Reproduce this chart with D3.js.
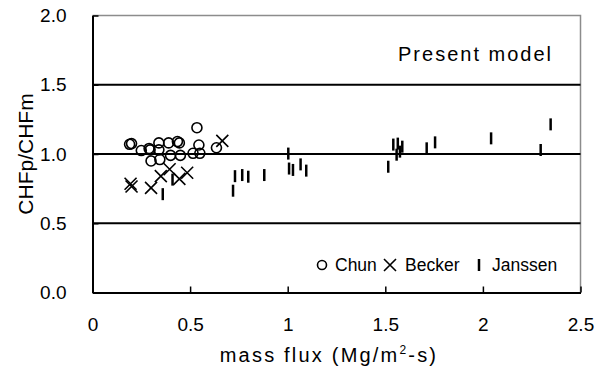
<!DOCTYPE html>
<html>
<head>
<meta charset="utf-8">
<script src="https://cdn.jsdelivr.net/npm/d3@7"></script>
<style>
  body { margin: 0; background: #fff; }
  svg { display: block; font-family: "Liberation Sans", Arial, sans-serif; }
  .axes text { font-size: 19px; fill: #000; }
</style>
</head>
<body>
<svg width="607" height="369"></svg>
<script>
//CHF ratio vs mass flux, three data sets
const SVG_WIDTH = 607;
const SVG_HEIGHT = 369;

//tick values
var xTicks = [0, 0.5, 1, 1.5, 2, 2.5];
var yTicks = [0, 0.5, 1.0, 1.5, 2.0];
var gridValues = [0.5, 1.0, 1.5];

//Chun (circles)
var chunX = [0.19, 0.20, 0.25, 0.29, 0.295, 0.30, 0.34, 0.34, 0.345, 0.39, 0.40, 0.435, 0.445, 0.45, 0.515, 0.535, 0.545, 0.55, 0.635];
var chunY = [1.07, 1.075, 1.025, 1.04, 1.03, 0.95, 1.08, 1.03, 0.96, 1.08, 0.99, 1.09, 1.08, 0.99, 1.005, 1.19, 1.065, 1.005, 1.045];

//Becker (crosses)
var beckerX = [0.195, 0.20, 0.30, 0.35, 0.395, 0.445, 0.485, 0.665];
var beckerY = [0.785, 0.765, 0.755, 0.84, 0.89, 0.82, 0.865, 1.095];

//Janssen (vertical bars)
var janssenX = [0.36, 0.41, 0.72, 0.73, 0.767, 0.798, 0.88, 1.003, 1.007, 1.027, 1.066, 1.095,
                1.515, 1.541, 1.558, 1.564, 1.575, 1.587, 1.712, 1.755, 2.042, 2.296, 2.347];
var janssenY = [0.71, 0.815, 0.735, 0.84, 0.848, 0.836, 0.848, 1.003, 0.895, 0.885, 0.925, 0.88,
                0.908, 1.068, 0.995, 1.075, 1.017, 1.053, 1.041, 1.084, 1.113, 1.029, 1.214];

var svg = d3.select('svg');

var x = d3.scaleLinear()
          .domain([0, 2.5])
          .range([92.5, 580.5]);

var y = d3.scaleLinear()
          .domain([0, 2])
          .range([292.5, 15.5]);

//top and right border, gray
svg.append('path')
   .attr('d', 'M' + x(0) + ',' + y(2) + 'H' + x(2.5) + 'V' + y(0))
   .attr('fill', 'none')
   .attr('stroke', '#8c8c8c')
   .attr('stroke-width', 1.5);

//horizontal grid lines
svg.selectAll('.grid')
   .data(gridValues)
   .enter()
   .append('line')
     .attr('class', 'grid')
     .attr('x1', x(0))
     .attr('x2', x(2.5))
     .attr('y1', function(d) { return y(d); })
     .attr('y2', function(d) { return y(d); })
     .attr('stroke', '#000')
     .attr('stroke-width', 2);

//x axis
var xAxis = svg.append('g')
   .attr('class', 'axes')
   .attr('transform', 'translate(0,' + y(0) + ')')
   .call(d3.axisBottom(x)
            .tickValues(xTicks)
            .tickFormat(function(d) { return String(d); })
            .tickSizeInner(-6)
            .tickSizeOuter(0)
            .tickPadding(25.5));

//y axis
var yAxis = svg.append('g')
   .attr('class', 'axes')
   .attr('transform', 'translate(' + x(0) + ',0)')
   .call(d3.axisLeft(y)
            .tickValues(yTicks)
            .tickFormat(d3.format('.1f'))
            .tickSizeInner(-6)
            .tickSizeOuter(0)
            .tickPadding(26));

svg.selectAll('.axes .domain').attr('stroke', '#000').attr('stroke-width', 2);
svg.selectAll('.axes .tick line').attr('stroke', '#000').attr('stroke-width', 1.5);
svg.selectAll('.axes text').attr('font-family', '"Liberation Sans", Arial, sans-serif');

//axis labels
svg.append('text')
   .attr('transform', 'translate(25,' + y(1) + ') rotate(-90)')
   .attr('text-anchor', 'middle')
   .attr('dominant-baseline', 'central')
   .style('font-size', '21px')
   .text('CHFp/CHFm');

var xl = svg.append('text')
   .attr('x', 329)
   .attr('y', 361.5)
   .attr('text-anchor', 'middle')
   .style('font-size', '20px')
   .style('letter-spacing', '2.2px');
xl.append('tspan').text('mass flux (Mg/m');
xl.append('tspan').attr('dy', -8).style('font-size', '12px').text('2');
xl.append('tspan').attr('dy', 8).text('-s)');

svg.append('text')
   .attr('x', 553)
   .attr('y', 61)
   .attr('text-anchor', 'end')
   .style('font-size', '20px')
   .style('letter-spacing', '2px')
   .text('Present model');

//marker shapes
var crossPath = 'M-6,-6L6,6M6,-6L-6,6';
var barPath = 'M0,-6V6';

//draw the data
svg.selectAll('.chun')
   .data(d3.range(chunX.length))
   .enter()
   .append('circle')
     .attr('class', 'chun')
     .attr('cx', function(i) { return x(chunX[i]); })
     .attr('cy', function(i) { return y(chunY[i]); })
     .attr('r', 5)
     .attr('fill', 'none')
     .attr('stroke', '#000')
     .attr('stroke-width', 1.6);

svg.selectAll('.becker')
   .data(d3.range(beckerX.length))
   .enter()
   .append('path')
     .attr('class', 'becker')
     .attr('transform', function(i) { return 'translate(' + x(beckerX[i]) + ',' + y(beckerY[i]) + ')'; })
     .attr('d', crossPath)
     .attr('fill', 'none')
     .attr('stroke', '#000')
     .attr('stroke-width', 1.6);

svg.selectAll('.janssen')
   .data(d3.range(janssenX.length))
   .enter()
   .append('path')
     .attr('class', 'janssen')
     .attr('transform', function(i) { return 'translate(' + x(janssenX[i]) + ',' + y(janssenY[i]) + ')'; })
     .attr('d', barPath)
     .attr('stroke', '#000')
     .attr('stroke-width', 2.5);

//legend
var legendY = 265;
var legend = svg.append('g').style('font-size', '17.5px');

legend.append('circle')
      .attr('cx', 322).attr('cy', legendY).attr('r', 4.5)
      .attr('fill', 'none').attr('stroke', '#000').attr('stroke-width', 1.6);
legend.append('text').attr('x', 335).attr('y', legendY)
      .attr('dominant-baseline', 'central').text('Chun');

legend.append('path')
      .attr('transform', 'translate(390,' + legendY + ')')
      .attr('d', crossPath)
      .attr('stroke', '#000').attr('stroke-width', 1.6);
legend.append('text').attr('x', 405).attr('y', legendY)
      .attr('dominant-baseline', 'central').text('Becker');

legend.append('path')
      .attr('transform', 'translate(479,' + legendY + ')')
      .attr('d', barPath)
      .attr('stroke', '#000').attr('stroke-width', 2.5);
legend.append('text').attr('x', 492).attr('y', legendY)
      .attr('dominant-baseline', 'central').text('Janssen');
</script>
</body>
</html>
